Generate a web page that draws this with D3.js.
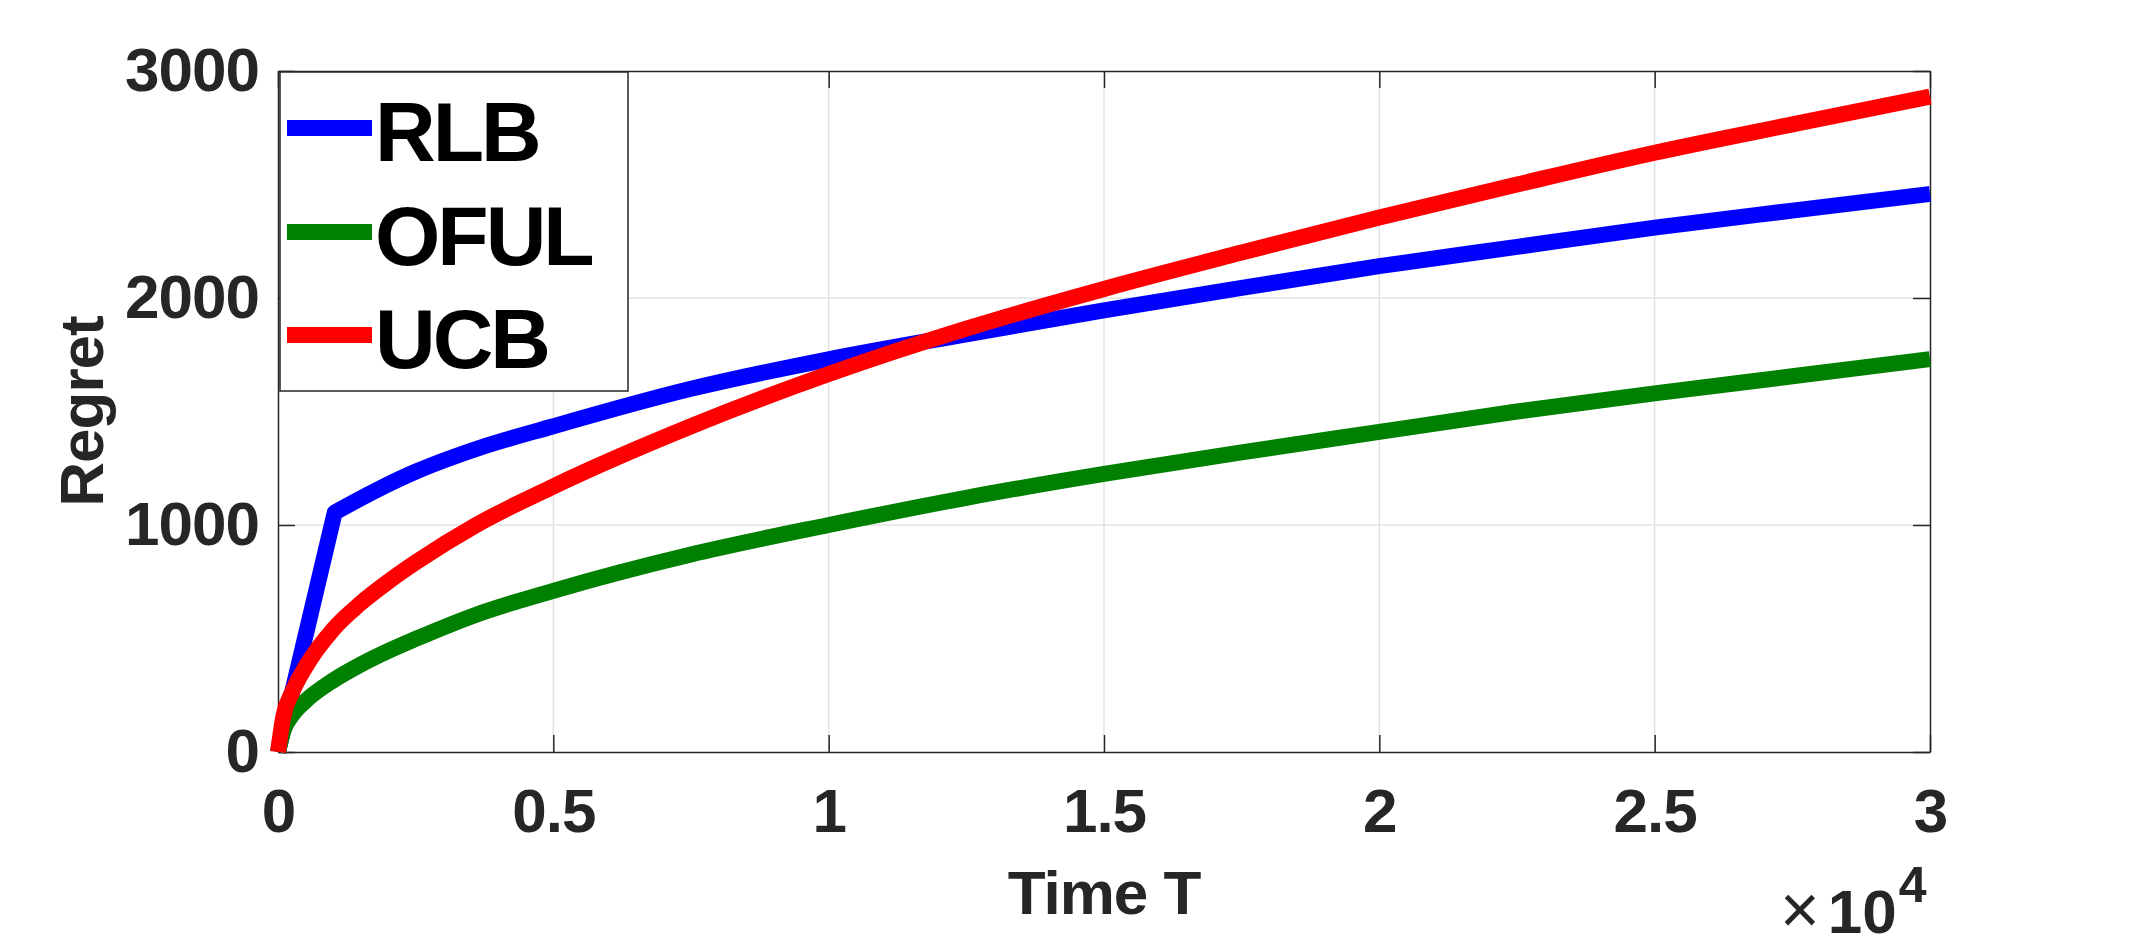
<!DOCTYPE html>
<html>
<head>
<meta charset="utf-8">
<script src="https://cdn.jsdelivr.net/npm/d3@7"></script>
<style>
  body { margin: 0; background: #fff; }
  text { font-family: "Liberation Sans", Arial, Helvetica, sans-serif; }
  .tick text { font-weight: bold; font-size: 62px; fill: #262626; letter-spacing: -1px; }
  .tick line { stroke: #262626; stroke-width: 1.5; }
  .domain { stroke: #262626; stroke-width: 1.5; }
</style>
</head>
<body>
<svg width="2136" height="946"></svg>
<script>
// time steps (T)
var timeT = [0, 100, 250, 500, 1000, 1500, 2000, 2500, 3600, 5000, 7500, 10000, 12500, 15000, 17500, 20000, 22500, 25000, 27500, 30000];

// RLB: straight climb up to a kink near T=1000, then a slow rise
var rlbT = [0, 1030, 1800, 2500, 3600, 5000, 7500, 10000, 12500, 15000, 17500, 20000, 22500, 25000, 27500, 30000];
var rlbRegret = [0, 1055, 1155, 1235, 1335, 1435, 1600, 1730, 1840, 1945, 2045, 2140, 2225, 2310, 2385, 2458];

var ofulRegret = [0, 95, 160, 225, 315, 385, 445, 498, 605, 710, 870, 1000, 1120, 1225, 1320, 1410, 1500, 1580, 1655, 1731];
var ucbRegret = [0, 160, 260, 375, 540, 655, 750, 835, 1000, 1170, 1435, 1665, 1865, 2040, 2200, 2355, 2500, 2640, 2765, 2887];

var seriesNames = ['RLB', 'OFUL', 'UCB'];
var seriesColors = ['#0000ff', '#008000', '#ff0000'];
var xTicks = [0, 5000, 10000, 15000, 20000, 25000, 30000];
var yTicks = [0, 1000, 2000, 3000];

var svg = d3.select('svg');
var margin = { top: 71, right: 206, bottom: 194, left: 278 };
var width = 2136, height = 946;

var x = d3.scaleLinear().domain([0, 30000]).range([margin.left, width - margin.right]);
var y = d3.scaleLinear().domain([0, 3000]).range([height - margin.bottom, margin.top]);

// grid
svg.append('g')
  .selectAll('line')
  .data(xTicks.slice(1, -1))
  .join('line')
  .attr('x1', function (d) { return x(d); })
  .attr('x2', function (d) { return x(d); })
  .attr('y1', y(0))
  .attr('y2', y(3000))
  .attr('stroke', '#e3e3e3')
  .attr('stroke-width', 1.5);

svg.append('g')
  .selectAll('line')
  .data(yTicks.slice(1, -1))
  .join('line')
  .attr('x1', x(0))
  .attr('x2', x(30000))
  .attr('y1', function (d) { return y(d); })
  .attr('y2', function (d) { return y(d); })
  .attr('stroke', '#e3e3e3')
  .attr('stroke-width', 1.5);

// axes, ticks pointing inward on all four sides
svg.append('g')
  .attr('transform', 'translate(0,' + y(0) + ')')
  .call(d3.axisBottom(x).tickValues(xTicks).tickSize(-17).tickSizeOuter(0).tickPadding(36)
    .tickFormat(function (d) { return d / 1e4; }));

svg.append('g')
  .attr('transform', 'translate(' + x(0) + ',0)')
  .call(d3.axisLeft(y).tickValues(yTicks).tickSize(-17).tickSizeOuter(0).tickPadding(19)
    .tickFormat(d3.format('d')));

svg.append('g')
  .attr('transform', 'translate(0,' + y(3000) + ')')
  .call(d3.axisTop(x).tickValues(xTicks).tickSize(-17).tickSizeOuter(0).tickFormat(''));

svg.append('g')
  .attr('transform', 'translate(' + x(30000) + ',0)')
  .call(d3.axisRight(y).tickValues(yTicks).tickSize(-17).tickSizeOuter(0).tickFormat(''));

svg.selectAll('.tick text').attr('font-family', null);

// lines
var line = d3.line()
  .x(function (d) { return x(d[0]); })
  .y(function (d) { return y(d[1]); })
  .curve(d3.curveMonotoneX);

function points(ts, vs) {
  return ts.map(function (t, j) { return [t, vs[j]]; });
}

// RLB: straight piece to the kink, smooth curve after it
var rlbPts = points(rlbT, rlbRegret);
var rlbPath = 'M' + x(rlbPts[0][0]) + ',' + y(rlbPts[0][1]) + 'L' + line(rlbPts.slice(1)).slice(1);

var paths = [rlbPath, line(points(timeT, ofulRegret)), line(points(timeT, ucbRegret))];

paths.forEach(function (p, i) {
  svg.append('path')
    .attr('d', p)
    .attr('fill', 'none')
    .attr('stroke', seriesColors[i])
    .attr('stroke-width', 16)
    .attr('stroke-linejoin', 'round');
});

// axis labels
svg.append('text')
  .attr('x', (x(0) + x(30000)) / 2)
  .attr('y', 914)
  .attr('text-anchor', 'middle')
  .attr('font-size', 62)
  .attr('font-weight', 'bold')
  .attr('fill', '#262626')
  .attr('letter-spacing', -1)
  .text('Time T');

svg.append('text')
  .attr('transform', 'translate(103,' + (y(0) + y(3000)) / 2 + ') rotate(-90)')
  .attr('text-anchor', 'middle')
  .attr('font-size', 62)
  .attr('font-weight', 'bold')
  .attr('fill', '#262626')
  .attr('letter-spacing', -1)
  .text('Regret');

// exponent label
var expo = svg.append('text')
  .attr('x', 1780)
  .attr('y', 933)
  .attr('fill', '#262626');
expo.append('tspan').attr('font-size', 68).attr('font-weight', 'normal').text('\u00d7');
expo.append('tspan').attr('font-size', 62).attr('font-weight', 'bold').attr('dx', 8).text('10');
expo.append('tspan').attr('font-size', 50).attr('font-weight', 'bold').attr('dx', 2).attr('dy', -31).text('4');

// legend
var legend = svg.append('g');
legend.append('rect')
  .attr('x', 280)
  .attr('y', 72)
  .attr('width', 348)
  .attr('height', 319)
  .attr('fill', '#fff')
  .attr('stroke', '#262626')
  .attr('stroke-width', 1.5);

var legendY = [128, 232, 335];
seriesNames.forEach(function (name, i) {
  legend.append('line')
    .attr('x1', 287)
    .attr('x2', 372)
    .attr('y1', legendY[i])
    .attr('y2', legendY[i])
    .attr('stroke', seriesColors[i])
    .attr('stroke-width', 16);
  legend.append('text')
    .attr('x', 375)
    .attr('y', legendY[i] + 33)
    .attr('font-size', 84)
    .attr('font-weight', 'bold')
    .attr('letter-spacing', -3)
    .attr('fill', '#000')
    .text(name);
});
</script>
</body>
</html>
